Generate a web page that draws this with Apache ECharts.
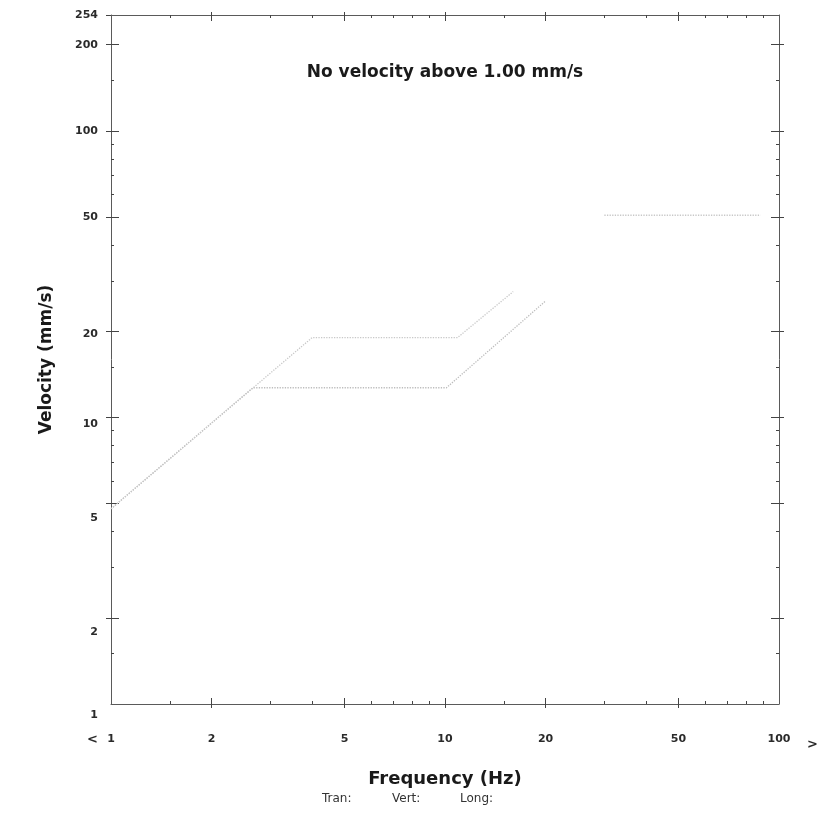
<!DOCTYPE html>
<html><head><meta charset="utf-8">
<script src="https://cdn.jsdelivr.net/npm/echarts@6/dist/echarts.min.js"></script>
<style>html,body{margin:0;padding:0;background:#fff}#c{width:828px;height:819px}</style>
</head><body><div id="c"></div>
<script>
// ---- data ----
const xTickLabels = [1, 2, 5, 10, 20, 50, 100];
const yTickLabels = [1, 2, 5, 10, 20, 50, 100, 200, 254];
const xMinorTicks = [1.5, 3, 4, 6, 7, 8, 9, 15, 30, 40, 60, 70, 80, 90];
const yMinorTicks = [1.5, 3, 4, 6, 7, 8, 9, 15, 30, 40, 60, 70, 80, 90, 150];
const plasterFreq = [1, 2.66, 10.1, 20];
const plasterVel  = [4.8, 12.7, 12.7, 25.5];
const drywallFreq = [1, 4, 10.9, 16];
const drywallVel  = [4.8, 19, 19, 27.5];
const highFreq = [30, 88];
const highVel  = [50.8, 50.8];
const noteText = 'No velocity above 1.00 mm/s';
const xName = 'Frequency (Hz)';
const yName = 'Velocity (mm/s)';
const footerItems = ['Tran:', 'Vert:', 'Long:'];

const zip = (a, b) => a.map((v, i) => [v, b[i]]);
const FONT = 'DejaVu Sans';
const gridBox = {left: 111, right: 49, top: 15, bottom: 115};
const lineC = '#5a5a5a';
// label drift below tick (style only)
const yLabelDrift = {1: 11, 2: 14, 5: 14, 10: 7, 20: 3};

function xAx(gi, pos, opts) {
  return Object.assign({
    type: 'log', logBase: 10, min: 1, max: 100, gridIndex: gi, position: pos,
    axisLine: {show: gi === 0, lineStyle: {color: lineC, width: 1}},
    axisLabel: {show: false}, splitLine: {show: false}, minorTick: {show: false}
  }, opts);
}
function yAx(gi, pos, opts) {
  return Object.assign({
    type: 'log', logBase: 10, min: 1, max: 254, gridIndex: gi, position: pos,
    axisLine: {show: gi === 0, lineStyle: {color: lineC, width: 1}},
    axisLabel: {show: false}, splitLine: {show: false}, minorTick: {show: false}
  }, opts);
}
const majT = (vals, inside, len) => ({show: true, inside, length: len, customValues: vals, lineStyle: {color: '#444', width: 1}});

const rich = {};
yTickLabels.forEach(v => {
  const d = yLabelDrift[v] || 0;
  rich['d' + v] = {fontFamily: FONT, fontWeight: 'bold', fontSize: 11, color: '#2a2a2a', padding: [2 * d, 0, 0, 0]};
});

const option = {
  animation: false,
  backgroundColor: '#fff',
  grid: [Object.assign({}, gridBox), Object.assign({}, gridBox), Object.assign({}, gridBox)],
  xAxis: [
    xAx(0, 'bottom', {
      name: xName, nameLocation: 'middle', nameGap: 66,
      nameTextStyle: {fontFamily: FONT, fontWeight: 'bold', fontSize: 18, color: '#1a1a1a'},
      axisTick: majT(xTickLabels.slice(1, -1), true, 6),
      axisLabel: {show: true, customValues: xTickLabels, margin: 30, fontFamily: FONT, fontWeight: 'bold', fontSize: 11, color: '#2a2a2a'}
    }),
    xAx(0, 'top', {axisTick: majT(xTickLabels.slice(1, -1), true, 6)}),
    xAx(1, 'bottom', {axisTick: majT(xTickLabels.slice(1, -1), false, 4)}),
    xAx(1, 'top', {axisTick: majT(xTickLabels.slice(1, -1), false, 3)}),
    xAx(2, 'bottom', {axisTick: majT(xMinorTicks, true, 3)}),
    xAx(2, 'top', {axisTick: majT(xMinorTicks, true, 3)})
  ],
  yAxis: [
    yAx(0, 'left', {
      name: yName, nameLocation: 'middle', nameGap: 56, nameRotate: 90,
      nameTextStyle: {fontFamily: FONT, fontWeight: 'bold', fontSize: 17, color: '#1a1a1a'},
      axisTick: majT(yTickLabels.slice(1, -1), true, 8),
      axisLabel: {show: true, customValues: yTickLabels, margin: 13,
        formatter: v => '{d' + v + '|' + v + '}', rich: rich,
        fontFamily: FONT, fontWeight: 'bold', fontSize: 11, color: '#2a2a2a'}
    }),
    yAx(0, 'right', {axisTick: majT(yTickLabels.slice(1, -1), true, 8)}),
    yAx(1, 'left', {axisTick: majT(yTickLabels.slice(1), false, 5)}),
    yAx(1, 'right', {axisTick: majT(yTickLabels.slice(1, -1), false, 5)}),
    yAx(2, 'left', {axisTick: majT(yMinorTicks, true, 3)}),
    yAx(2, 'right', {axisTick: majT(yMinorTicks, true, 3)})
  ],
  series: [
    {type: 'line', xAxisIndex: 0, yAxisIndex: 0, data: zip(plasterFreq, plasterVel), symbol: 'none',
     lineStyle: {color: '#bdbdbd', width: 1.3, type: 'dotted'}, silent: true},
    {type: 'line', xAxisIndex: 0, yAxisIndex: 0, data: zip(drywallFreq, drywallVel), symbol: 'none',
     lineStyle: {color: '#c8c8c8', width: 1.3, type: 'dotted'}, silent: true},
    {type: 'line', xAxisIndex: 0, yAxisIndex: 0, data: zip(highFreq, highVel), symbol: 'none',
     lineStyle: {color: '#c8c8c8', width: 1.3, type: 'dotted'}, silent: true}
  ],
  graphic: [
    {type: 'text', x: 445, y: 73, style: {text: noteText, align: 'center', verticalAlign: 'middle', fontFamily: FONT, fontWeight: 'bold', fontSize: 17, fill: '#1a1a1a'}},
    {type: 'text', left: 87, top: 733, style: {text: '<', fontFamily: FONT, fontWeight: 'bold', fontSize: 13, fill: '#2a2a2a'}},
    {type: 'text', left: 807, top: 738, style: {text: '>', fontFamily: FONT, fontWeight: 'bold', fontSize: 13, fill: '#2a2a2a'}},
    {type: 'text', left: 322, top: 793, style: {text: footerItems[0], fontFamily: FONT, fontSize: 12, fill: '#333'}},
    {type: 'text', left: 392, top: 793, style: {text: footerItems[1], fontFamily: FONT, fontSize: 12, fill: '#333'}},
    {type: 'text', left: 460, top: 793, style: {text: footerItems[2], fontFamily: FONT, fontSize: 12, fill: '#333'}}
  ]
};
const chart = echarts.init(document.getElementById('c'), null, {renderer: 'canvas'});
chart.setOption(option);
</script>
</body></html>
